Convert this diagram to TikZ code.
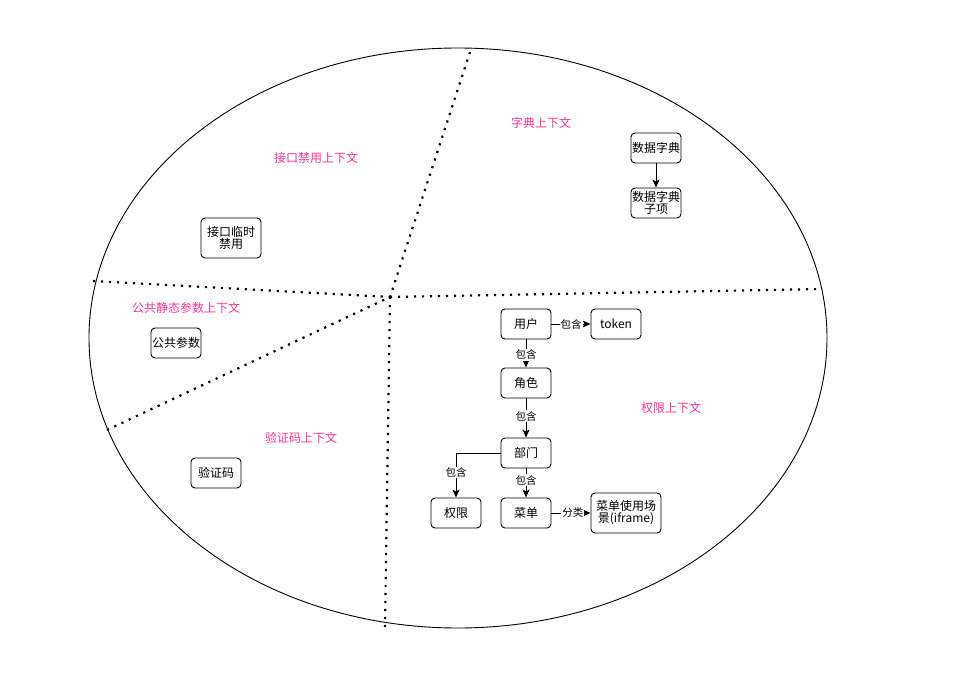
\documentclass[tikz,border=0pt]{standalone}
\usepackage{fontspec}
\setmainfont{Noto Sans CJK SC}
\usetikzlibrary{arrows.meta}
\definecolor{ctxpink}{HTML}{FF3399}

\begin{document}
\begin{tikzpicture}[x=1pt,y=-1pt,
  box/.style={draw, rounded corners=4pt, line width=0.9pt, minimum width=50pt,
    minimum height=30pt, inner sep=1pt, align=center,
    font=\fontsize{12}{14}\selectfont},
  ctxlabel/.style={text=ctxpink, inner sep=0pt, font=\fontsize{12}{14}\selectfont},
  edgelabel/.style={fill=white, inner sep=1pt, font=\fontsize{10.5}{12}\selectfont},
  link/.style={draw, line width=0.9pt, -{Stealth[length=8pt,width=7pt,inset=2pt]}},
  divider/.style={line width=2.2pt, dash pattern=on 2.2pt off 5.8pt}
]
\useasboundingbox (0,0) rectangle (975,677);

% outer boundary
\draw[line width=0.9pt] (458,338) ellipse [x radius=369, y radius=290];

% context dividers
\coordinate (hub) at (390,297);
\coordinate (dtop) at (470,52);
\coordinate (dleft) at (93,281);
\coordinate (dright) at (822,289);
\coordinate (dbottom) at (385,627);
\coordinate (dlowleft) at (107,430);
\draw[divider] (dtop) -- (hub);
\draw[divider] (dleft) -- (hub);
\draw[divider] (hub) -- (dright);
\draw[divider] (hub) -- (dbottom);
\draw[divider] (dlowleft) -- (hub);

% context titles
\node[ctxlabel] (tBan) at (316,158) {接口禁用上下文};
\node[ctxlabel] (tDict) at (541,123) {字典上下文};
\node[ctxlabel] (tParam) at (186,308) {公共静态参数上下文};
\node[ctxlabel] (tAuth) at (671,408) {权限上下文};
\node[ctxlabel] (tCode) at (301,438) {验证码上下文};

% dictionary context
\node[box] (dict) at (656,148) {数据字典};
\node[box] (dictitem) at (656,203) {数据字典\\[-2pt]子项};
\draw[link] (dict) -- (dictitem);

% other contexts
\node[box, minimum width=60pt, minimum height=40pt] (ban) at (231,238) {接口临时\\[-2pt]禁用};
\node[box] (param) at (176,343) {公共参数};
\node[box] (code) at (216,473) {验证码};

% authority context
\node[box] (user) at (526,324) {用户};
\node[box] (token) at (616,324) {token};
\node[box] (role) at (526,383) {角色};
\node[box] (dept) at (526,453) {部门};
\node[box] (perm) at (456,513) {权限};
\node[box] (menu) at (526,513) {菜单};
\node[box, minimum width=70pt, minimum height=40pt] (scene) at (626,513) {菜单使用场\\[-2pt]景(iframe)};

\draw[link] (user) -- node[edgelabel] {包含} (token);
\draw[link] (user) -- node[edgelabel, pos=0.55] {包含} (role);
\draw[link] (role) -- node[edgelabel, pos=0.45] {包含} (dept);
\draw[link] (dept.west) -| node[edgelabel, pos=0.72] {包含} (perm.north);
\draw[link] (dept) -- node[edgelabel, pos=0.4] {包含} (menu);
\draw[link] (menu) -- node[edgelabel, pos=0.55] {分类} (scene);
\end{tikzpicture}
\end{document}
